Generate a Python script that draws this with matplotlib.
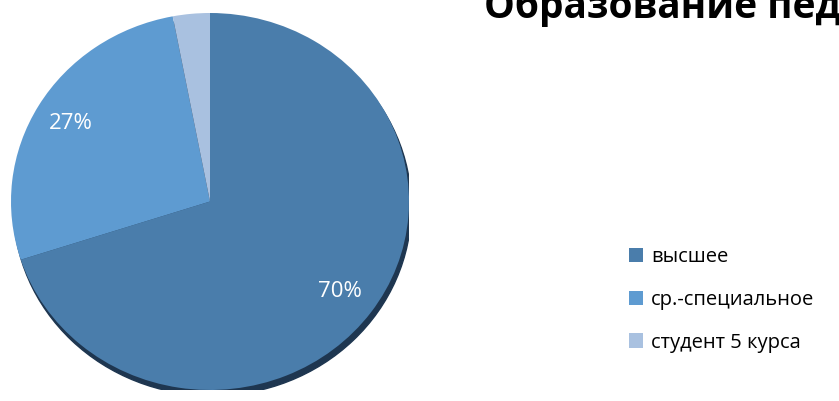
import matplotlib.pyplot as plt
from matplotlib.patches import Ellipse

labels = ['высшее', 'ср.-специальное', 'студент 5 курса']
values = [70, 27, 3]
colors = ['#4A7DAB', '#5E9BD1', '#A9C1E0']
title = 'Образование педагогов'

plt.rcParams['font.family'] = ['Open Sans', 'DejaVu Sans']

W, H = 839, 401
fig = plt.figure(figsize=(W / 100, H / 100), dpi=100)

# pie area in pixels: x 11..409, y 13..390 (slightly elliptical)
ax = fig.add_axes([11 / W, (H - 390) / H, 398 / W, 377 / H])
ax.axis('off')

# shadow under bottom-right edge
shadow = Ellipse((0.012, -0.03), 2.0, 2.0, color='#1E3650', zorder=0)
ax.add_patch(shadow)

wedges, texts, autotexts = ax.pie(
    values, colors=colors, startangle=90, counterclock=False,
    autopct=lambda p: f'{p:.0f}%' if p > 5 else '',
    pctdistance=0.81, radius=1.0,
    wedgeprops=dict(linewidth=0),
    textprops=dict(color='white', fontsize=16),
    frame=False)
ax.set_xlim(-1, 1)
ax.set_ylim(-1, 1)
ax.set_aspect('auto')
for w in wedges:
    w.set_zorder(1)
for t in autotexts:
    t.set_zorder(2)

# title is cut at the right edge, as in the original
fig.text(484 / W, 1 - 18 / H, title, fontsize=28, fontweight='bold',
         color='black', ha='left', va='baseline')

leg = fig.legend(wedges, labels, loc='center left',
                 bbox_to_anchor=(617 / W, 1 - 300 / H),
                 frameon=False, fontsize=14.5, handlelength=0.7,
                 handleheight=0.7, handletextpad=0.4, labelspacing=1.12,
                 borderpad=0, borderaxespad=0.6)

fig.savefig('out.png', dpi=100)
